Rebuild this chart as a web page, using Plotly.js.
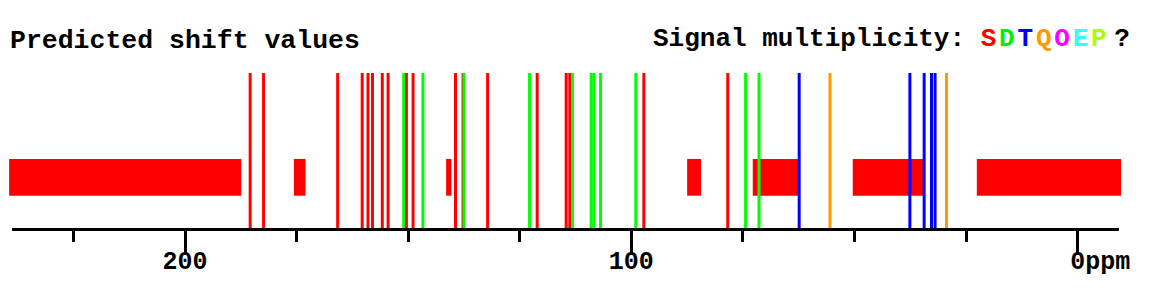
<!DOCTYPE html>
<html>
<head>
<meta charset="utf-8">
<script src="https://cdn.plot.ly/plotly-3.0.1.min.js"></script>
<style>
  html, body { margin: 0; padding: 0; background: #fff; }
  #chart { width: 1172px; height: 290px; }
</style>
</head>
<body>
<div id="chart"></div>
<script>
// ---- data (ppm) ----
const singletShifts = [185.4, 182.4, 165.8, 160.3, 159.0, 158.0, 155.8, 154.5, 150.4, 148.9,
                       139.4, 137.7, 132.2, 121.1, 114.6, 113.8, 97.2, 78.4];
const doubletShifts = [151.0, 146.7, 137.5, 122.8, 113.2, 109.0, 108.4, 106.9, 99.0, 74.4, 71.4];
const tripletShifts = [62.4, 37.6, 34.4, 32.75, 31.95];
const quartetShifts = [55.5, 29.4];
const regionHigh = [239.4, 175.6, 141.5, 87.5, 72.8, 50.4, 22.6];
const regionLow  = [187.4, 173.0, 140.3, 84.4, 62.3, 34.2, -9.7];
const majorTicks = [200, 100, 0];
const majorTickText = ['200', '100', '\u00a0\u00a0\u00a00ppm'];
const multiplicityLetters = ['S', 'D', 'T', 'Q', 'O', 'E', 'P'];
const multiplicityColors = ['#ff0000', '#00ee00', '#0000ff', '#ff9900', '#ff00ff', '#33ffff', '#aaff00'];

const FONT = '"Courier New", "Nimbus Mono PS", "FreeMono", "Liberation Mono", monospace';

function stickTrace(shifts, color) {
  const xs = [], ys = [];
  shifts.forEach(v => { xs.push(v, v, null); ys.push(0, 1, null); });
  return {
    type: 'scatter', mode: 'lines', x: xs, y: ys,
    xaxis: 'x2', yaxis: 'y',
    line: { color: color, width: 3 },
    hoverinfo: 'skip', showlegend: false
  };
}

const traces = [
  { type: 'scatter', mode: 'markers', x: [], y: [], xaxis: 'x', yaxis: 'y', showlegend: false, hoverinfo: 'skip' },
  stickTrace(singletShifts, '#ff0000'),
  stickTrace(doubletShifts, '#00ff00'),
  stickTrace(tripletShifts, '#0000ff'),
  stickTrace(quartetShifts, '#ff9900'),
  {
    type: 'bar', orientation: 'h',
    y: regionLow.map(() => 0.327),
    base: regionLow,
    x: regionHigh.map((h, i) => h - regionLow[i]),
    width: regionLow.map(() => 0.237),
    xaxis: 'x2', yaxis: 'y',
    marker: { color: '#ff0000', line: { width: 0 } },
    hoverinfo: 'skip', showlegend: false
  }
];

const PXPERPPM = 4.4635, ZEROPX = 1077.7, W = 1172;
const pxToPpm = px => (ZEROPX - px) / PXPERPPM;
const PLOT_TOP = 73, PLOT_BOTTOM = 228;
const pyToPaper = py => (PLOT_BOTTOM - py) / (PLOT_BOTTOM - PLOT_TOP);

const legendText = 'Signal multiplicity: ' +
  multiplicityLetters.map((l, i) =>
    '<span style="color:' + multiplicityColors[i] + ';letter-spacing:' +
    (i === multiplicityLetters.length - 1 ? '7.5px' : '2.8px') + '">' + l + '</span>').join('') +
  '?';

const layout = {
  width: 1172, height: 290,
  margin: { l: 0, r: 0, t: PLOT_TOP, b: 290 - PLOT_BOTTOM, pad: 0 },
  paper_bgcolor: '#fff', plot_bgcolor: '#fff',
  barmode: 'overlay',
  showlegend: false,
  title: {
    text: 'Predicted shift values',
    font: { family: FONT, size: 26.5, color: '#000', weight: 'bold' },
    xref: 'container', yref: 'container',
    x: 10 / W, xanchor: 'left',
    y: 1 - 39 / 290, yanchor: 'middle'
  },
  xaxis: {
    domain: [11.7 / W, 1119.3 / W],
    range: [pxToPpm(11.7), pxToPpm(1119.3)],
    anchor: 'y',
    showline: true, linecolor: '#000', linewidth: 3,
    showgrid: false, zeroline: false,
    ticks: 'outside', ticklen: 22, tickwidth: 3, tickcolor: '#000',
    tickmode: 'array', tickvals: majorTicks, ticktext: majorTickText,
    ticklabelstandoff: -14,
    tickfont: { family: FONT, size: 25, color: '#000', weight: 'bold' },
    minor: { dtick: 25, tick0: 0, ticks: 'outside', ticklen: 11, tickwidth: 3, tickcolor: '#000', showgrid: false },
    fixedrange: true
  },
  xaxis2: {
    domain: [0, 1],
    range: [pxToPpm(0), pxToPpm(W)],
    anchor: 'y',
    visible: false, showgrid: false, zeroline: false, fixedrange: true
  },
  yaxis: {
    domain: [0, 1], range: [0, 1], anchor: 'x',
    visible: false, showgrid: false, zeroline: false, fixedrange: true
  },
  annotations: [{
    xref: 'paper', yref: 'paper',
    x: 1131.5 / W, xanchor: 'right',
    y: pyToPaper(39), yanchor: 'middle',
    showarrow: false,
    font: { family: FONT, size: 26, color: '#000', weight: 'bold' },
    text: legendText
  }]
};

Plotly.newPlot('chart', traces, layout, { displayModeBar: false, staticPlot: true });
</script>
</body>
</html>
